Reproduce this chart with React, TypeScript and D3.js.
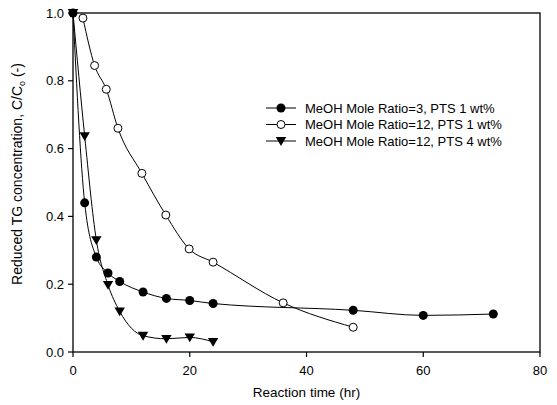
import React from "react";
import * as d3 from "d3";

const s1X = [0, 2, 4, 6, 8, 12, 16, 20, 24, 48, 60, 72];
const s1Y = [1.0, 0.44, 0.28, 0.233, 0.208, 0.177, 0.158, 0.152, 0.143, 0.123, 0.108, 0.112];
const s2X = [1.7, 3.7, 5.7, 7.7, 11.8, 15.9, 19.9, 24, 36, 48];
const s2Y = [0.985, 0.845, 0.775, 0.66, 0.527, 0.404, 0.304, 0.265, 0.145, 0.073];
const s3X = [0, 2, 4, 6, 8, 12, 16, 20, 24];
const s3Y = [1.0, 0.637, 0.33, 0.198, 0.12, 0.048, 0.039, 0.043, 0.03];
const seriesNames = [
  "MeOH Mole Ratio=3, PTS 1 wt%",
  "MeOH Mole Ratio=12, PTS 1 wt%",
  "MeOH Mole Ratio=12, PTS 4 wt%",
];
const xTicks = [0, 20, 40, 60, 80];
const yTicks = [0.0, 0.2, 0.4, 0.6, 0.8, 1.0];

const W = 557, H = 405;
const L = 73, R = 540, T = 13, B = 352;

export default function App() {
  const x = d3.scaleLinear().domain([0, 80]).range([L, R]);
  const y = d3.scaleLinear().domain([0, 1]).range([B, T]);
  const line = d3.line<[number, number]>().x(d => x(d[0])).y(d => y(d[1])).curve(d3.curveMonotoneX);
  const zip = (a: number[], b: number[]) => a.map((v, i) => [v, b[i]] as [number, number]);
  const series = [zip(s1X, s1Y), zip(s2X, s2Y), zip(s3X, s3Y)];
  const font = "'Liberation Sans', Arial, sans-serif";

  const marker = (k: number, cx: number, cy: number, key: string) => {
    if (k === 0) return <circle key={key} cx={cx} cy={cy} r={4.5} fill="#000" />;
    if (k === 1) return <circle key={key} cx={cx} cy={cy} r={4} fill="#fff" stroke="#000" strokeWidth={1} />;
    const s = 5.2;
    return <path key={key} d={`M${cx - s},${cy - s * 0.75}L${cx + s},${cy - s * 0.75}L${cx},${cy + s * 0.95}Z`} fill="#000" />;
  };

  const legY = [108, 124.5, 141];

  return (
    <svg width={W} height={H} style={{ position: "absolute", left: 0, top: 0, background: "#fff" }}>
      <rect x={0} y={0} width={W} height={H} fill="#fff" />
      <rect x={L} y={T} width={R - L} height={B - T} fill="none" stroke="#000" strokeWidth={1.3} />
      {xTicks.map(t => (
        <g key={"x" + t}>
          <line x1={x(t)} x2={x(t)} y1={B} y2={B + 5} stroke="#000" strokeWidth={1.2} />
          <text x={x(t)} y={B + 23} textAnchor="middle" fontFamily={font} fontSize={13}>{t}</text>
        </g>
      ))}
      {yTicks.map(t => (
        <g key={"y" + t}>
          <line x1={L - 5} x2={L} y1={y(t)} y2={y(t)} stroke="#000" strokeWidth={1.2} />
          <text x={L - 9} y={y(t) + 4.5} textAnchor="end" fontFamily={font} fontSize={13}>{t.toFixed(1)}</text>
        </g>
      ))}
      <text x={(L + R) / 2} y={397} textAnchor="middle" fontFamily={font} fontSize={13.5}>Reaction time (hr)</text>
      <text transform={`translate(22,174) rotate(-90)`} textAnchor="middle" fontFamily={font} fontSize={14}>
        Reduced TG concentration, C/C<tspan fontSize={9} dy={3}>o</tspan><tspan dy={-3}> (-)</tspan>
      </text>
      {series.map((d, k) => (
        <path key={"l" + k} d={line(d) || ""} fill="none" stroke="#000" strokeWidth={1} />
      ))}
      {series.map((d, k) => d.map((p, i) => marker(k, x(p[0]), y(p[1]), `m${k}-${i}`)))}
      {seriesNames.map((n, k) => (
        <g key={"lg" + k}>
          <line x1={266} x2={296} y1={legY[k]} y2={legY[k]} stroke="#000" strokeWidth={1} />
          {marker(k, 281, legY[k], "lm" + k)}
          <text x={305} y={legY[k] + 4.5} fontFamily={font} fontSize={13}>{n}</text>
        </g>
      ))}
    </svg>
  );
}
